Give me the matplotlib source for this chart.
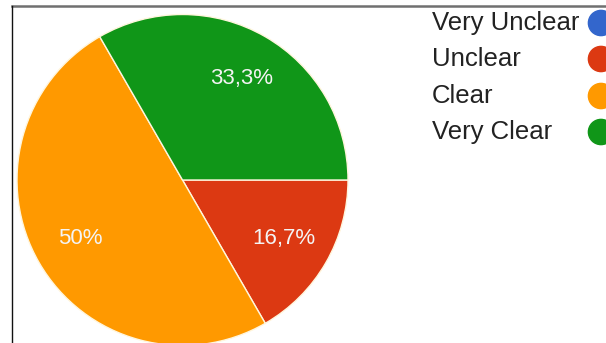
import matplotlib.pyplot as plt

plt.rcParams['font.family'] = ['Liberation Sans', 'DejaVu Sans']

labels = ['Very Unclear', 'Unclear', 'Clear', 'Very Clear']
counts = [0, 1, 3, 2]
colors = ['#3366cc', '#dc3912', '#ff9900', '#109618']


def pct(p):
    if p < 0.5:
        return ''
    s = '%.1f%%' % p
    s = s.replace('.0%', '%')
    return s.replace('.', ',')


fig = plt.figure(figsize=(6.06, 3.43), dpi=100)

# full-figure overlay in pixel coords for frame + legend
ov = fig.add_axes([0, 0, 1, 1])
ov.set_xlim(0, 606)
ov.set_ylim(343, 0)
ov.axis('off')
ov.plot([12, 606], [6, 6], color='#707070', lw=1.8)
ov.plot([12, 12], [6, 343], color='#111111', lw=1.0)

ax = fig.add_axes([17 / 606, -2.5 / 343, 331 / 606, 331 / 343])
wedges, texts, autotexts = ax.pie(
    counts, colors=colors, startangle=0, counterclock=False,
    autopct=pct, pctdistance=0.71, radius=1,
    wedgeprops=dict(edgecolor='#fff6dd', linewidth=1.0),
    textprops=dict(color='#f4f4f4', fontsize=16))
ax.set_xlim(-1, 1)
ax.set_ylim(-1, 1)
ax.set_aspect('equal')

row_y = [23, 59, 96, 132]
for lab, c, yy in zip(labels, colors, row_y):
    ov.text(432, yy, lab, fontsize=18.5, color='#222222', va='center', ha='left')
ov.scatter([601] * len(labels), row_y, s=330, c=colors, zorder=3, clip_on=False)

fig.savefig('out.png', dpi=100)
